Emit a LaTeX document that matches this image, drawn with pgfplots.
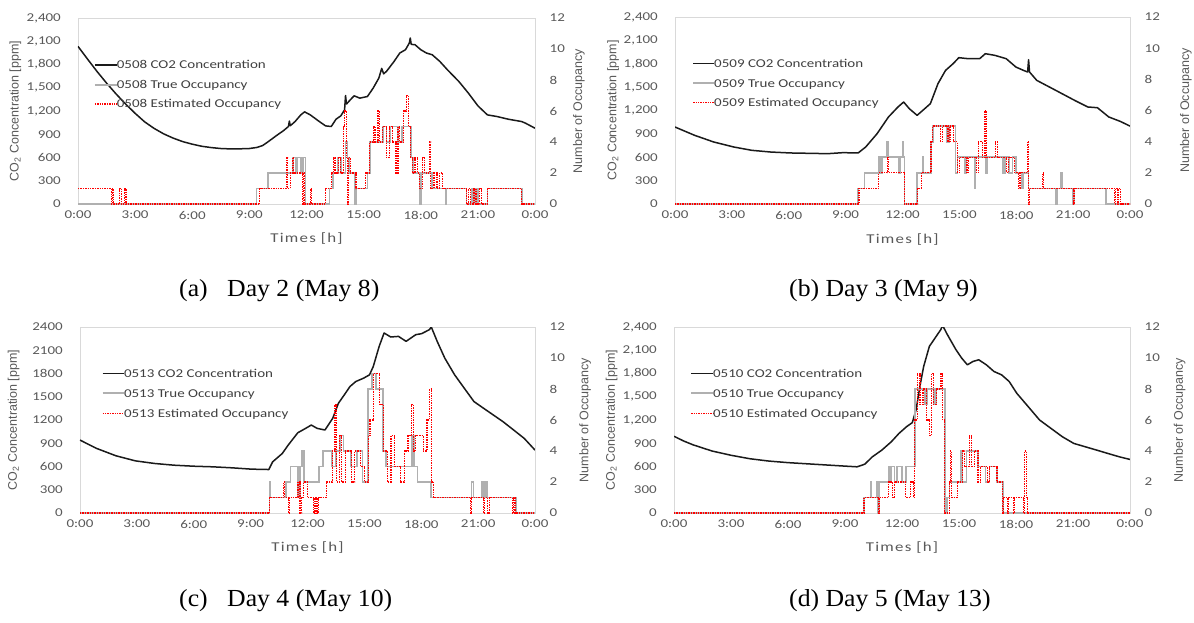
\documentclass[border=0pt]{standalone}
\usepackage{fontspec}
\setmainfont{Liberation Serif}
\newfontfamily\tickfont[FakeStretch=1.25]{Carlito}
\newfontfamily\xlabfont[FakeStretch=1.25,LetterSpace=9]{Carlito}
\newfontfamily\ylabfont{Liberation Sans}
\newfontfamily\capfont[FakeStretch=1.05]{Liberation Serif}
\usepackage{pgfplots}
\pgfplotsset{compat=1.18}

\definecolor{axgray}{HTML}{D9D9D9}
\definecolor{txtgray}{HTML}{595959}
\definecolor{leggray}{HTML}{404040}
\definecolor{occgray}{HTML}{B0B0B0}
\definecolor{co2black}{HTML}{1A1A1A}
\definecolor{estred}{HTML}{FF0000}

\tikzset{
  co2/.style={draw=co2black, line width=1.5pt, line join=round},
  tru/.style={draw=occgray, line width=1.7pt},
  est/.style={draw=estred, line width=1.2pt, dash pattern=on 1.4pt off 1pt},
  leg/.style={anchor=base west, inner sep=0pt, text=leggray, font=\tickfont\fontsize{12}{13}\selectfont},
  captxt/.style={anchor=base west, inner sep=0pt, font=\capfont\fontsize{24.5}{26}\selectfont},
}

\pgfplotsset{
  panel/.style={scale only axis, anchor=north west, xmin=0, xmax=24,
    major tick length=0pt, axis line style={draw=axgray, line width=0.8pt},
    /pgf/number format/assume math mode=true,
    tick label style={font=\tickfont\fontsize{12}{13}\selectfont, text=txtgray},
    label style={text=txtgray}},
  leftax/.style={panel, ymin=0, ymax=2400, ytick={0,300,...,2400},
    xtick={0,3,...,24},
    xticklabels={0:00,3:00,6:00,9:00,12:00,15:00,18:00,21:00,0:00},
    yticklabel style={anchor=east, inner sep=0pt, xshift=-17pt},
    xticklabel style={anchor=north, inner sep=0pt, yshift=-7pt},
    xlabel={Times [h]},
    xlabel style={font=\xlabfont\fontsize{13.5}{15}\selectfont,
      at={(axis description cs:0.5,-0.188)}, anchor=center},
    ylabel={CO\textsubscript{2} Concentration [ppm]},
    ylabel style={font=\ylabfont\fontsize{12.5}{14}\selectfont, anchor=center}},
  rightax/.style={panel, ymin=0, ymax=12, ytick={0,2,...,12},
    axis x line=none, axis y line*=right,
    yticklabel style={anchor=west, inner sep=0pt, xshift=14.5pt},
    ylabel={Number of Occupancy},
    ylabel style={font=\ylabfont\fontsize{12.5}{14}\selectfont, anchor=center}},
}

\newcommand{\panellegend}[6]{%
  \draw[co2] (#1pt,-#3pt) -- (#2pt,-#3pt);
  \node[leg] at (#2pt,-#3pt-3.9pt) {#6 CO2 Concentration};
  \draw[tru] (#1pt,-#4pt) -- (#2pt,-#4pt);
  \node[leg] at (#2pt,-#4pt-3.9pt) {#6 True Occupancy};
  \draw[est] (#1pt,-#5pt) -- (#2pt,-#5pt);
  \node[leg] at (#2pt,-#5pt-3.9pt) {#6 Estimated Occupancy};
}

\begin{document}
\begin{tikzpicture}
\path[use as bounding box, fill=white] (0pt,0pt) rectangle (1194pt,-622pt);

% ---------------- (a) 0508 ----------------
\begin{axis}[leftax, at={(78pt,-18pt)}, width=457pt, height=186pt,
  ylabel style={at={(axis description cs:-0.137,0.5)}}]
\addplot[co2] coordinates {
(0,2034) (0.5,1870) (1,1710) (1.5,1560) (2,1420) (2.5,1290) (3,1170)
(3.5,1060) (4,975) (4.5,905) (5,850) (5.5,805) (6,772) (6.5,745) (7,728)
(7.5,716) (8,711) (8.5,712) (9,716) (9.4,730) (9.7,755) (10,806) (10.4,879)
(10.8,948) (11.05,1000) (11.1,1070) (11.15,1010) (11.4,1064) (11.7,1150)
(11.9,1189) (12.2,1150) (12.6,1077) (13,1008) (13.3,1000) (13.55,1094)
(13.8,1137) (14,1215) (14.05,1400) (14.1,1290) (14.3,1344) (14.5,1396)
(14.8,1366) (15.2,1387) (15.5,1495) (15.8,1625) (15.95,1750) (16.05,1680)
(16.2,1711) (16.6,1840) (16.9,1948) (17.2,1991) (17.4,2077) (17.45,2142)
(17.5,2060) (17.7,2055) (18,1991) (18.3,1948) (18.6,1926) (19,1840)
(19.4,1732) (20,1581) (20.5,1431) (21,1267) (21.5,1150) (22,1129)
(22.6,1094) (23.3,1064) (23.5,1043) (24,978)
};
\end{axis}
\begin{axis}[rightax, at={(78pt,-18pt)}, width=457pt, height=186pt,
  ylabel style={at={(axis description cs:1.096,0.5)}}]
\addplot[tru, const plot] coordinates {
(0,0) (9.38,1) (9.98,2) (11.3,3) (11.45,2) (11.5,3) (11.7,2) (11.8,3)
(11.95,0) (13.2,1) (13.4,2) (13.65,3) (13.8,2) (14.05,4) (14.15,3) (14.25,2)
(14.55,0) (14.62,1) (15.2,2) (15.35,4) (16,5) (16.2,4) (16.4,5) (16.8,4)
(17,5) (17.5,3) (17.6,2) (17.95,0) (18.02,2) (18.6,1) (19.3,0) (19.35,1)
(20.4,0) (20.7,1) (20.8,0) (20.9,1) (21,0) (21.5,1) (23.3,0) (24,0)
};
\addplot[est, const plot] coordinates {
(0,1) (1.75,0) (1.8,1) (1.85,0) (2.2,1) (2.28,0) (2.45,1) (2.52,0)
(9.55,1) (10.95,3) (11.02,1) (11.15,2) (11.25,3) (11.3,2) (11.8,0)
(11.85,2) (11.9,0) (12.2,1) (12.25,0) (13,1) (13.3,2) (13.4,3) (13.5,2)
(13.7,3) (13.8,2) (13.95,5) (14,6) (14.08,3) (14.15,0) (14.2,3) (14.3,2)
(14.6,1) (15.1,2) (15.3,4) (15.5,5) (15.6,4) (15.75,6) (15.82,4) (16,5)
(16.2,3) (16.35,5) (16.5,4) (16.7,2) (16.8,5) (16.9,4) (17.1,6) (17.25,7)
(17.35,5) (17.45,3) (17.55,2) (17.7,3) (17.85,2) (17.95,1) (18.1,3)
(18.2,2) (18.45,4) (18.52,1) (18.7,2) (18.85,1) (19,2) (19.15,1) (20.4,0)
(20.5,1) (20.6,0) (20.8,1) (20.9,0) (21.1,1) (21.2,0) (21.5,1) (23.3,0)
(24,0)
};
\end{axis}
\panellegend{94.8}{116.6}{65}{85}{104}{0508}

% ---------------- (b) 0509 ----------------
\begin{axis}[leftax, at={(675pt,-17pt)}, width=455pt, height=187pt,
  ylabel style={at={(axis description cs:-0.136,0.5)}}]
\addplot[co2] coordinates {
(0,988) (1.04,881) (2.04,796) (3.09,732) (4.05,689) (5.05,667) (6.1,655)
(8.06,646) (8.86,659) (9.66,655) (10.06,732) (10.66,903) (11.26,1117)
(11.76,1245) (12.06,1309) (12.36,1223) (12.77,1138) (13.17,1223)
(13.47,1288) (13.87,1544) (14.27,1715) (14.67,1801) (14.97,1878)
(15.47,1865) (16.07,1865) (16.37,1929) (16.87,1908) (17.47,1865)
(17.98,1758) (18.38,1715) (18.6,1694) (18.65,1852) (18.7,1694)
(19.08,1587) (20.08,1459) (21.08,1330) (21.78,1245) (22.28,1236)
(22.88,1117) (23.49,1060) (24,1000)
};
\end{axis}
\begin{axis}[rightax, at={(675pt,-17pt)}, width=455pt, height=187pt,
  ylabel style={at={(axis description cs:1.123,0.5)}}]
\addplot[tru, const plot] coordinates {
(0,0) (9.66,1) (10,2) (10.75,3) (10.85,2) (10.95,3) (11.2,4) (11.25,3)
(11.8,2) (11.9,3) (12,4) (12.05,3) (12.1,0) (12.75,2) (13.05,3) (13.1,2)
(13.5,4) (13.6,5) (14.35,4) (14.45,5) (14.8,2) (14.9,3) (15.3,2) (15.35,3)
(15.8,1) (15.85,3) (16.4,2) (16.45,3) (17.3,2) (17.4,3) (17.6,2) (17.8,3)
(18,2) (18.3,1) (18.35,2) (18.65,1) (20.1,0) (20.15,1) (20.35,2) (20.4,1)
(21,0) (21.05,1) (22.75,0) (24,0)
};
\addplot[est, const plot] coordinates {
(0,0) (9.7,1) (10.75,2) (11.2,3) (11.25,2) (12.1,0) (12.8,1) (13,2)
(13.5,4) (13.6,5) (14,4) (14.1,5) (14.4,4) (14.5,5) (14.7,4) (14.9,2)
(15,3) (15.4,2) (15.5,3) (15.9,2) (16,4) (16.2,3) (16.35,6) (16.45,3)
(16.9,4) (17,3) (17.5,2) (17.6,3) (17.9,2) (18.1,1) (18.2,2) (18.6,4)
(18.65,0) (18.7,1) (19.4,2) (19.45,1) (21,0) (21.05,1) (23.2,0) (23.25,1)
(23.35,0) (23.4,1) (23.5,0) (24,0)
};
\end{axis}
\panellegend{693.2}{714}{63.3}{83.3}{102.7}{0509}

% ---------------- (c) 0513 ----------------
\begin{axis}[leftax, at={(80pt,-327pt)}, width=455pt, height=186pt,
  /pgf/number format/1000 sep={},
  ylabel style={at={(axis description cs:-0.146,0.5)}}]
\addplot[co2] coordinates {
(0,941) (0.88,833) (1.9,738) (2.92,673) (3.94,639) (4.96,617) (5.98,604)
(7,596) (8.02,583) (9.04,566) (9.96,561) (10.16,660) (10.67,768)
(10.98,876) (11.49,1036) (11.9,1092) (12.2,1135) (12.51,1092) (12.92,1071)
(13.33,1222) (13.63,1416) (13.94,1524) (14.24,1632) (14.55,1697)
(14.96,1740) (15.27,1783) (15.47,1891) (15.78,2150) (16.04,2323)
(16.39,2271) (16.8,2279) (17.2,2215) (17.71,2301) (18.02,2314)
(18.43,2366) (18.53,2400) (18.84,2215) (19.24,1999) (19.76,1783)
(20.27,1610) (20.78,1438) (21.29,1351) (21.8,1265) (22.31,1179)
(22.92,1062) (23.43,963) (24,812)
};
\end{axis}
\begin{axis}[rightax, at={(80pt,-327pt)}, width=455pt, height=186pt,
  ylabel style={at={(axis description cs:1.11,0.5)}}]
\addplot[tru, const plot] coordinates {
(0,0) (10,2) (10.05,1) (10.85,2) (11.1,3) (11.5,1) (11.6,3) (11.7,4)
(11.8,2) (12.6,3) (12.8,4) (13.3,3) (13.5,4) (13.7,5) (13.9,4) (14.3,3)
(14.6,4) (14.9,2) (15.2,8) (15.4,9) (15.6,8) (16,4) (16.15,3) (17.5,5)
(17.6,3) (17.8,2) (18.5,1) (20.65,2) (20.75,1) (21.2,2) (21.3,1) (21.4,2)
(21.5,1) (23,0) (24,0)
};
\addplot[est, const plot] coordinates {
(0,0) (10,1) (10.75,2) (10.8,1) (11,0) (11.05,1) (11.5,2) (11.6,0)
(11.7,1) (11.8,2) (12,1) (12.3,0) (12.4,1) (12.5,0) (12.6,1) (13,2)
(13.3,4) (13.45,7) (13.55,2) (13.7,5) (13.8,2) (14,4) (14.3,2) (14.5,4)
(14.8,3) (15,2) (15.2,5) (15.3,6) (15.5,9) (15.8,7) (16,4) (16.2,2)
(16.4,5) (16.6,3) (16.9,2) (17.1,4) (17.3,5) (17.5,7) (17.6,4) (17.7,5)
(18.1,4) (18.3,6) (18.45,8) (18.55,2) (18.65,1) (20.6,0) (20.65,1)
(21.3,0) (21.35,1) (21.5,0) (21.6,1) (22.8,0) (22.85,1) (22.95,0) (24,0)
};
\end{axis}
\panellegend{102.5}{123.8}{373.3}{393.3}{413.3}{0513}

% ---------------- (d) 0510 ----------------
\begin{axis}[leftax, at={(674pt,-327pt)}, width=456pt, height=186pt,
  ylabel style={at={(axis description cs:-0.137,0.5)}}]
\addplot[co2] coordinates {
(0,990) (0.5,930) (1,880) (2,800) (3,745) (4,700) (5,670) (6,650) (7,635)
(8,620) (9,605) (9.64,596) (10.04,630) (10.44,725) (10.94,812)
(11.44,920) (11.84,1027) (12.24,1114) (12.54,1166) (12.74,1330)
(12.94,1632) (13.14,1891) (13.44,2150) (13.74,2258) (14.04,2366)
(14.14,2420) (14.34,2323) (14.54,2236) (14.84,2107) (15.14,1999)
(15.44,1912) (15.74,1956) (16.04,1977) (16.44,1912) (16.84,1826)
(17.24,1783) (17.64,1697) (18.04,1545) (18.64,1373) (19.24,1200)
(19.84,1092) (20.44,984) (21.04,898) (21.64,855) (22.24,812) (22.84,768)
(23.44,725) (24,691)
};
\end{axis}
\begin{axis}[rightax, at={(674pt,-327pt)}, width=456pt, height=186pt,
  ylabel style={at={(axis description cs:1.109,0.5)}}]
\addplot[tru, const plot] coordinates {
(0,0) (10,1) (10.35,2) (10.4,1) (10.65,2) (10.75,0) (10.8,2) (11.3,3)
(11.35,2) (11.45,3) (11.6,2) (11.75,3) (12,2) (12.2,3) (12.7,8) (13.2,7)
(13.3,8) (13.7,7) (13.8,8) (14.25,0) (14.35,1) (14.5,2) (15.1,4) (15.15,2)
(15.4,4) (16,3) (16.4,2) (16.6,3) (17,2) (17.3,0) (24,0)
};
\addplot[est, const plot] coordinates {
(0,0) (10,1) (10.75,0) (10.8,1) (11.3,2) (11.5,1) (11.6,2) (12.2,1)
(12.45,2) (12.6,1) (12.65,6) (12.8,9) (12.95,7) (13.1,8) (13.3,6)
(13.45,5) (13.55,9) (13.65,7) (13.8,8) (14.05,9) (14.15,6) (14.25,0)
(14.5,2) (14.55,4) (14.6,1) (14.9,2) (15.2,4) (15.3,3) (15.55,5)
(15.65,3) (15.8,4) (16,2) (16.15,3) (16.5,2) (16.6,3) (17,2) (17.3,0)
(17.35,1) (17.55,0) (17.6,1) (17.85,0) (17.9,1) (18.4,0) (18.45,4)
(18.55,1) (18.6,0) (24,0)
};
\end{axis}
\panellegend{691.2}{712.9}{373.3}{393.3}{413.3}{0510}

% ---------------- captions ----------------
\node[captxt] at (179pt,-296.7pt) {(a)};
\node[captxt] at (227pt,-296.7pt) {Day 2 (May 8)};
\node[captxt] at (789pt,-296.7pt) {(b) Day 3 (May 9)};
\node[captxt] at (179pt,-606.7pt) {(c)};
\node[captxt] at (227pt,-606.7pt) {Day 4 (May 10)};
\node[captxt] at (789pt,-606.7pt) {(d) Day 5 (May 13)};
\end{tikzpicture}
\end{document}
